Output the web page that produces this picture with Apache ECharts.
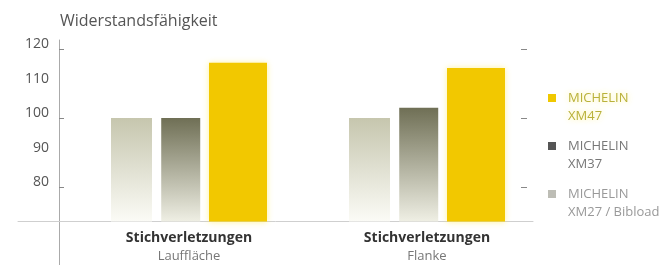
<!DOCTYPE html>
<html><head><meta charset="utf-8">
<script src="https://cdn.jsdelivr.net/npm/echarts@6/dist/echarts.min.js"></script>
<style>html,body{margin:0;padding:0;background:#fff}#c{width:665px;height:265px}</style>
</head><body><div id="c"></div>
<script>
const chartTitle = 'Widerstandsfähigkeit';
const categories = [['Stichverletzungen', 'Lauffläche'], ['Stichverletzungen', 'Flanke']];
const seriesNames = ['MICHELIN XM27 / Bibload', 'MICHELIN XM37', 'MICHELIN XM47'];
const xm27 = [100, 100];
const xm37 = [100, 103];
const xm47 = [116, 114.5];
const legendOrder = ['MICHELIN XM47', 'MICHELIN XM37', 'MICHELIN XM27 / Bibload'];
const yMin = 70, yMax = 120, yStep = 10;
const tickMin = 80, tickMax = 120, tickStep = 20;

const FONT = 'Open Sans';
const grad = (top, bottom) => new echarts.graphic.LinearGradient(0, 0, 0, 1, [
  { offset: 0, color: top }, { offset: 1, color: bottom }
]);

const chart = echarts.init(document.getElementById('c'), null, { renderer: 'canvas' });
chart.setOption({
  animation: false,
  textStyle: { fontFamily: FONT },
  title: {
    text: chartTitle, left: 55, top: 8,
    textStyle: { fontFamily: FONT, fontSize: 16, fontWeight: 'normal', color: '#555' }
  },
  grid: [
    { left: 70, right: 119, top: 49, bottom: 43.5 },
    { left: 18, right: 132, top: 49, bottom: 43.5 },
    { left: 59, right: 138, top: 40, bottom: 0 },
    { left: 59, right: 138, top: 49, bottom: 78 }
  ],
  xAxis: [
    {
      gridIndex: 0, type: 'category', data: categories.map(c => c.join('\n')),
      axisLine: { show: false }, axisTick: { show: false },
      axisLabel: {
        margin: 8, interval: 0,
        formatter: v => { const p = v.split('\n'); return '{a|' + p[0] + '}\n{b|' + p[1] + '}'; },
        rich: {
          a: { fontFamily: FONT, fontSize: 14, fontWeight: 'bold', color: '#333', lineHeight: 18 },
          b: { fontFamily: FONT, fontSize: 13, color: '#777', lineHeight: 18 }
        }
      }
    },
    { gridIndex: 1, type: 'category', data: [''], axisLine: { show: true, lineStyle: { color: '#cfcfcf' } },
      axisTick: { show: false }, axisLabel: { show: false } },
    { gridIndex: 2, type: 'value', show: false },
    { gridIndex: 3, type: 'value', show: false }
  ],
  yAxis: [
    {
      gridIndex: 0, type: 'value', min: yMin, max: yMax, interval: yStep, offset: 11,
      axisLine: { show: false }, axisTick: { show: false }, splitLine: { show: false },
      axisLabel: { showMinLabel: false, margin: 10, fontFamily: FONT, fontSize: 14, color: '#555',
        verticalAlign: 'bottom', lineHeight: 9 }
    },
    { gridIndex: 1, type: 'value', show: false, min: 0, max: 1 },
    {
      gridIndex: 2, type: 'value', min: 0, max: 1, position: 'left',
      axisLine: { show: true, lineStyle: { color: '#aaa' } }, axisTick: { show: false },
      axisLabel: { show: false }, splitLine: { show: false }
    },
    {
      gridIndex: 3, type: 'value', min: tickMin, max: tickMax, interval: tickStep, position: 'left',
      axisLine: { show: false }, axisTick: { show: true, inside: true, length: 5, lineStyle: { color: '#888' } },
      axisLabel: { show: false }, splitLine: { show: false }
    },
    {
      gridIndex: 3, type: 'value', min: tickMin, max: tickMax, interval: tickStep, position: 'right',
      axisLine: { show: false }, axisTick: { show: true, inside: true, length: 6, lineStyle: { color: '#888' } },
      axisLabel: { show: false }, splitLine: { show: false }
    }
  ],
  legend: {
    orient: 'vertical', left: 543, top: 66, itemWidth: 8, itemHeight: 8, itemGap: -6,
    icon: 'rect', selectedMode: false,
    formatter: n => '\n' + n.replace(' ', '\n'),
    textStyle: { fontFamily: FONT, fontSize: 13, lineHeight: 18, color: '#888', padding: [0, 0, 0, 7] },
    data: [
      { name: legendOrder[0], itemStyle: { color: '#f0c800' },
        textStyle: { color: '#b9b13a', textShadowColor: 'rgba(255,240,120,0.9)', textShadowBlur: 6 } },
      { name: legendOrder[1], itemStyle: { color: '#555' }, textStyle: { color: '#777' } },
      { name: legendOrder[2], itemStyle: { color: '#bdbdb5' }, textStyle: { color: '#999' } }
    ]
  },
  series: [
    { name: seriesNames[0], type: 'bar', xAxisIndex: 0, yAxisIndex: 0, data: xm27, barWidth: 41, barGap: '22.5%',
      itemStyle: { color: grad('#c6c6ae', '#fbfbf6') } },
    { name: seriesNames[1], type: 'bar', xAxisIndex: 0, yAxisIndex: 0, data: xm37, barWidth: 39, barGap: '22.5%',
      itemStyle: { color: grad('#6f6f55', '#efefe4') } },
    { name: seriesNames[2], type: 'bar', xAxisIndex: 0, yAxisIndex: 0, data: xm47, barWidth: 58, barGap: '22.5%',
      itemStyle: { color: '#f2c800', shadowColor: 'rgba(255,235,90,0.6)', shadowBlur: 6 } }
  ]
});
</script></body></html>
